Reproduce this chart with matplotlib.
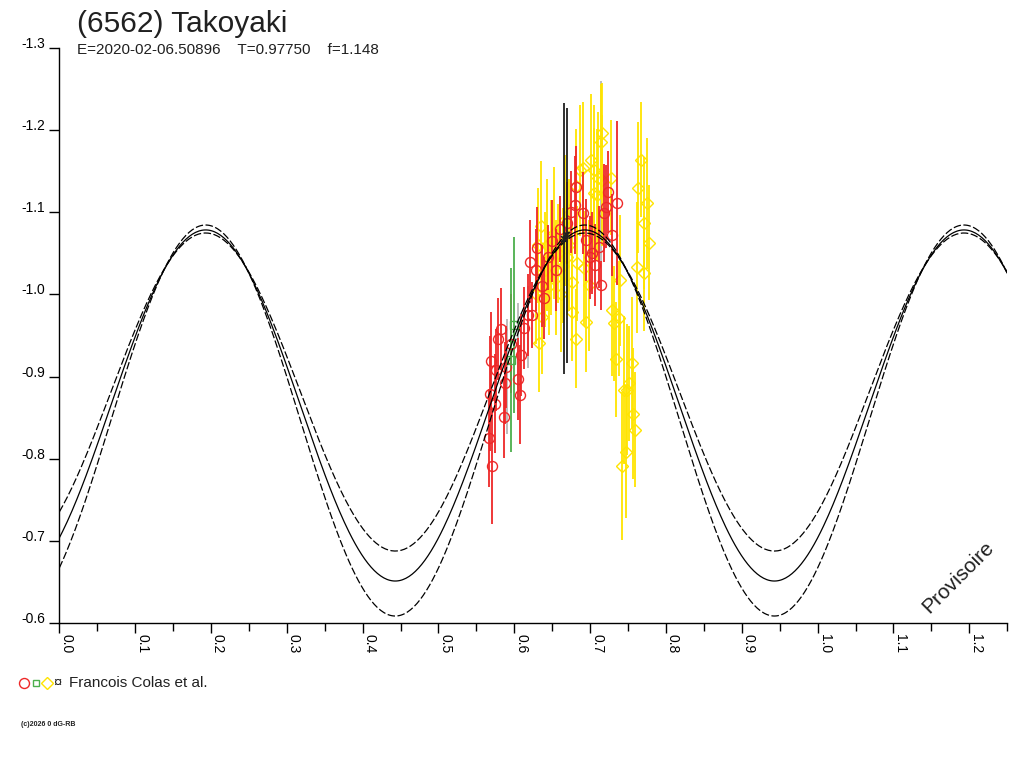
import matplotlib
matplotlib.use("Agg")
import matplotlib.pyplot as plt
import numpy as np
from matplotlib.lines import Line2D

# ---------------- data ----------------
title = "(6562) Takoyaki"
subtitle = "E=2020-02-06.50896    T=0.97750    f=1.148"
observer = "Francois Colas et al."

x_ticks = [0.0, 0.1, 0.2, 0.3, 0.4, 0.5, 0.6, 0.7, 0.8, 0.9, 1.0, 1.1, 1.2]
x_tick_labels = ["0.0", "0.1", "0.2", "0.3", "0.4", "0.5", "0.6", "0.7", "0.8",
                 "0.9", "1.0", "1.1", "1.2"]
y_ticks = [-1.3, -1.2, -1.1, -1.0, -0.9, -0.8, -0.7, -0.6]
y_tick_labels = ["-1.3", "-1.2", "-1.1", "-1.0", "-0.9", "-0.8", "-0.7", "-0.6"]

# Fourier model (2nd harmonic): mean, amplitude, phase of maximum
model_mean = [-0.8648, -0.8812, -0.8465]   # solid, inner dashed, outer dashed
model_amp = [0.2137, 0.1936, 0.2380]
model_peak = [0.193, 0.193, 0.193]

# series 1 : red circles
red_phase = [0.567, 0.568, 0.569, 0.571, 0.574, 0.576, 0.578, 0.582, 0.586, 0.588,
             0.589, 0.595, 0.605, 0.607, 0.609, 0.613, 0.618, 0.621, 0.624, 0.628,
             0.630, 0.636, 0.639, 0.645, 0.650, 0.655, 0.660, 0.670, 0.675, 0.680,
             0.681, 0.690, 0.694, 0.700, 0.703, 0.707, 0.712, 0.714, 0.718, 0.721,
             0.724, 0.729, 0.736]
red_mag = [-0.825, -0.879, -0.919, -0.791, -0.867, -0.908, -0.946, -0.958, -0.851, -0.892,
           -0.912, -0.940, -0.897, -0.878, -0.926, -0.959, -0.975, -1.040, -0.975, -1.030,
           -1.057, -1.010, -0.996, -1.045, -1.065, -1.030, -1.080, -1.087, -1.100, -1.109,
           -1.131, -1.099, -1.066, -1.045, -1.050, -1.036, -1.058, -1.011, -1.099, -1.107,
           -1.125, -1.072, -1.111]
red_err = [0.06, 0.07, 0.06, 0.07, 0.06, 0.05, 0.05, 0.05, 0.05, 0.05,
           0.05, 0.06, 0.05, 0.06, 0.05, 0.05, 0.05, 0.05, 0.04, 0.05,
           0.05, 0.05, 0.05, 0.04, 0.05, 0.05, 0.04, 0.05, 0.05, 0.06,
           0.05, 0.05, 0.05, 0.05, 0.05, 0.05, 0.05, 0.03, 0.06, 0.05,
           0.05, 0.05, 0.10]

# series 2 : green squares
green_phase = [0.600, 0.596]
green_mag = [-0.963, -0.920]
green_err = [0.107, 0.112]

# series 3 : yellow diamonds
yellow_phase = [0.628, 0.631, 0.633, 0.635, 0.637, 0.640, 0.643, 0.646, 0.649, 0.652,
                0.655, 0.658, 0.661, 0.664, 0.667, 0.669, 0.672, 0.676, 0.676, 0.681,
                0.682, 0.683, 0.686, 0.690, 0.692, 0.694, 0.699, 0.701, 0.705, 0.705,
                0.709, 0.710, 0.714, 0.716, 0.716, 0.727, 0.729, 0.732, 0.734, 0.738,
                0.740, 0.742, 0.745, 0.747, 0.749, 0.751, 0.755, 0.757, 0.759, 0.762,
                0.763, 0.767, 0.771, 0.771, 0.775, 0.778]
yellow_mag = [-1.000, -1.060, -0.941, -1.083, -0.973, -1.030, -1.060, -1.010, -1.045, -1.075,
              -1.020, -1.050, -1.000, -1.035, -1.090, -1.045, -1.060, -1.015, -0.979, -1.132,
              -0.946, -1.038, -1.151, -1.154, -1.032, -0.966, -1.011, -1.164, -1.151, -1.123,
              -1.121, -1.142, -1.186, -1.197, -1.139, -1.142, -0.981, -0.965, -0.921, -0.971,
              -1.017, -0.791, -0.884, -0.808, -0.884, -0.892, -0.917, -0.855, -0.835, -1.033,
              -1.130, -1.164, -1.087, -1.026, -1.111, -1.063]
yellow_err = [0.06, 0.07, 0.06, 0.08, 0.07, 0.07, 0.08, 0.06, 0.07, 0.08,
              0.07, 0.06, 0.07, 0.07, 0.08, 0.07, 0.08, 0.07, 0.06, 0.07,
              0.06, 0.07, 0.08, 0.08, 0.07, 0.06, 0.08, 0.08, 0.08, 0.08,
              0.08, 0.08, 0.07, 0.06, 0.08, 0.07, 0.08, 0.07, 0.07, 0.07,
              0.08, 0.09, 0.09, 0.08, 0.08, 0.07, 0.08, 0.08, 0.07, 0.08,
              0.08, 0.07, 0.08, 0.07, 0.08, 0.07]

# series 4 : grey / black (¤)
grey_phase = [0.590, 0.605, 0.618, 0.715]
grey_mag = [-0.900, -0.930, -0.960, -1.150]
grey_err = [0.07, 0.06, 0.05, 0.11]
black_phase = [0.666, 0.669]
black_mag = [-1.068, -1.072]
black_err = [0.165, 0.155]

# ---------------- figure ----------------
FONT = ["Liberation Sans", "DejaVu Sans"]
plt.rcParams["font.family"] = FONT

fig = plt.figure(figsize=(10.24, 7.68), dpi=100)
ax = fig.add_axes([59.3 / 1024, 1 - 623 / 768, (1007.2 - 59.3) / 1024, (623 - 48) / 768])

RED = "#ee2828"
YELLOW = "#ffe400"
GREEN = "#4caf4c"
GREY = "#b8b8b8"

# model curves
xs = np.linspace(0, 1.25, 600)
styles = [dict(ls="-", lw=0.9), dict(ls=(0, (6, 2)), lw=0.9), dict(ls=(0, (6, 2)), lw=0.9)]
for m, a, p, st in zip(model_mean, model_amp, model_peak, styles):
    ax.plot(xs, m - a * np.cos(4 * np.pi * (xs - p)), color="black", zorder=5, **st)

# data
ax.errorbar(grey_phase, grey_mag, yerr=grey_err, fmt="none", ecolor=GREY,
            elinewidth=1.3, capsize=0, zorder=2)
ax.errorbar(yellow_phase, yellow_mag, yerr=yellow_err, fmt="D", ms=6.5, mfc="none",
            mec=YELLOW, mew=1.0, ecolor=YELLOW, elinewidth=1.3, capsize=0, zorder=3)
ax.errorbar(red_phase, red_mag, yerr=red_err, fmt="o", ms=7.2, mfc="none",
            mec=RED, mew=1.0, ecolor=RED, elinewidth=1.3, capsize=0, zorder=4)
ax.errorbar(green_phase, green_mag, yerr=green_err, fmt="s", ms=5.5, mfc="none",
            mec=GREEN, mew=1.0, ecolor=GREEN, elinewidth=1.3, capsize=0, zorder=4)
ax.errorbar(black_phase, black_mag, yerr=black_err, fmt="x", ms=5, mec="#202020",
            mew=1.2, ecolor="#202020", elinewidth=1.3, capsize=0, zorder=6)

# axes
ax.set_xlim(0, 1.25)
ax.set_ylim(-0.6, -1.3)
for s in ("top", "right"):
    ax.spines[s].set_visible(False)
for s in ("left", "bottom"):
    ax.spines[s].set_linewidth(1.0)

ax.set_xticks(x_ticks, x_tick_labels)
ax.set_xticks([0.05 + 0.1 * i for i in range(13)], minor=True)
ax.tick_params(axis="x", which="major", direction="out", length=7.2, width=1.0,
               pad=1, labelsize=10, labelrotation=270)
ax.tick_params(axis="x", which="minor", direction="out", length=5.8, width=1.0)
for lab in ax.get_xticklabels():
    lab.set_ha("left")
    lab.set_va("top")

ax.set_yticks(y_ticks, y_tick_labels)
ax.tick_params(axis="y", which="major", direction="out", length=7.2, width=1.0,
               pad=3, labelsize=10)
for lab in ax.get_yticklabels():
    lab.set_va("baseline")

# texts
fig.text(77 / 1024, 1 - 32 / 768, title, fontsize=21.5, color="#202020", va="baseline")
fig.text(77 / 1024, 1 - 54 / 768, subtitle, fontsize=11, color="#202020", va="baseline")
fig.text(958 / 1024, 1 - 577 / 768, "Provisoire", fontsize=15, rotation=45,
         ha="center", va="center", color="#202020")

# legend line at bottom
ly = 1 - 683 / 768
fig.add_artist(Line2D([24 / 1024], [ly], marker="o", ms=7.2, mfc="none", mec=RED,
                      mew=1.0, ls="none", transform=fig.transFigure))
fig.add_artist(Line2D([36 / 1024], [ly], marker="s", ms=5, mfc="none", mec=GREEN,
                      mew=1.0, ls="none", transform=fig.transFigure))
fig.add_artist(Line2D([47 / 1024], [ly], marker="D", ms=6, mfc="none", mec=YELLOW,
                      mew=1.0, ls="none", transform=fig.transFigure))
fig.text(53 / 1024, ly, "¤", fontsize=10.5, va="center", color="#202020")
fig.text(69 / 1024, ly, observer, fontsize=11, va="center", color="#202020")
fig.text(21 / 1024, 1 - 725 / 768, "(c)2026 0 dG-RB", fontsize=5, fontweight="bold",
         va="center", color="#202020")

fig.savefig("out.png", dpi=100)
